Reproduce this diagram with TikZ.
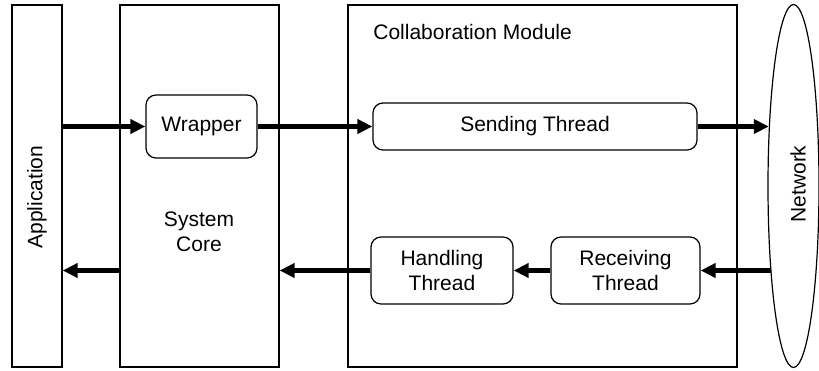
\documentclass[tikz,border=0pt]{standalone}
\usepackage{fontspec}
\setmainfont{Liberation Sans}
\usetikzlibrary{arrows.meta,shapes.geometric}
\begin{document}
\begin{tikzpicture}[x=0.5pt,y=-0.5pt,
  font=\fontsize{10.5pt}{12.6pt}\selectfont,
  layer/.style={draw, line width=0.6pt, rectangle, inner sep=0pt},
  thread/.style={draw, line width=0.6pt, rounded corners=5pt, inner sep=0pt, align=center},
  flow/.style={line width=2.2pt, -{Triangle[length=7.5pt,width=7pt]}}
]
\useasboundingbox (0,0) rectangle (819,370);

% Layers
\node[layer, minimum width=25pt, minimum height=181pt] (app) at (37,186) {};
\node[rotate=90] (applbl) at (37,197) {Application};
\node[layer, minimum width=79.5pt, minimum height=181pt] (core) at (199.5,186) {};
\node[align=center] (corelbl) at (199,232) {System\\Core};
\node[layer, minimum width=194.5pt, minimum height=181pt] (collab) at (542.5,186) {};
\node[anchor=west, inner sep=0pt] (collablbl) at (373,32) {Collaboration Module};
\node[draw, line width=0.6pt, ellipse, inner sep=0pt, minimum width=25.5pt, minimum height=181.5pt] (net) at (793.5,186) {};
\node[rotate=90] (netlbl) at (798,184) {Network};

% Threads and wrapper
\node[thread, minimum width=55.5pt, minimum height=31.5pt] (wrap) at (201.5,126.5) {Wrapper};
\node[thread, minimum width=162pt, minimum height=23.5pt] (send) at (535,126.5) {Sending Thread};
\node[thread, minimum width=71pt, minimum height=33.5pt] (handle) at (442,270.5) {Handling\\Thread};
\node[thread, minimum width=74.5pt, minimum height=33.5pt] (recv) at (625.5,270.5) {Receiving\\Thread};

% Outgoing path
\draw[flow] (wrap.west -| app.east) -- (wrap.west);
\draw[flow] (wrap.east) -- (send.west);
\draw[flow] (send.east) -- ([xshift=0.7pt]send.east -| net.west);

% Incoming path
\draw[flow] ([xshift=1.8pt]recv.east -| net.west) -- (recv.east);
\draw[flow] (recv.west) -- (handle.east);
\draw[flow] (handle.west) -- (handle.west -| core.east);
\draw[flow] (handle.west -| core.west) -- (handle.west -| app.east);
\end{tikzpicture}
\end{document}
